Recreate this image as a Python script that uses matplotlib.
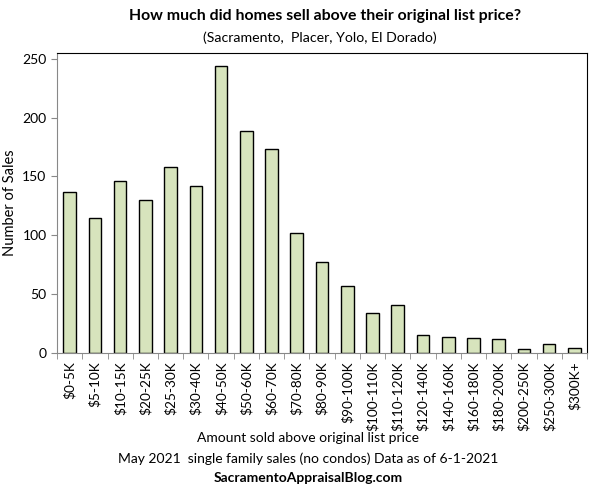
"""Sales above original list price, May 2021."""

import matplotlib
matplotlib.use("Agg")
import matplotlib.pyplot as plt

plt.rcParams["font.family"] = ["Lato", "DejaVu Sans"]

categories = [
    "$0-5K", "$5-10K", "$10-15K", "$20-25K", "$25-30K", "$30-40K", "$40-50K",
    "$50-60K", "$60-70K", "$70-80K", "$80-90K", "$90-100K", "$100-110K",
    "$110-120K", "$120-140K", "$140-160K", "$160-180K", "$180-200K",
    "$200-250K", "$250-300K", "$300K+",
]
sales = [137, 115, 146, 130, 158, 142, 244, 189, 173, 102, 77, 57, 34, 41,
         15, 14, 13, 12, 3, 8, 4]
yticks = [0, 50, 100, 150, 200, 250]

fig = plt.figure(figsize=(5.99, 4.90), dpi=100)
ax = fig.add_axes([0.0952, 0.2796, 0.8848, 0.6124])

x = list(range(len(categories)))
ax.bar(x, sales, width=0.5, color="#d7e4bd", edgecolor="black", linewidth=1.0)
ax.set_xlim(-0.5, len(categories) - 0.5)
ax.set_ylim(0, 255)
ax.set_yticks(yticks)
ax.set_xticks(x)
ax.set_xticklabels(categories, rotation=90, fontsize=9.8)
ax.tick_params(axis="y", labelsize=10, length=4, color="#888888", direction="out")
ax.tick_params(axis="x", length=0, pad=6)
# category boundary ticks
ax.set_xticks([i - 0.5 for i in range(len(categories) + 1)], minor=True)
ax.tick_params(axis="x", which="minor", length=4, color="#888888", direction="out")

for side in ("left", "bottom"):
    ax.spines[side].set_color("#888888")
for side in ("top", "right"):
    ax.spines[side].set_color("black")

ax.set_ylabel("Number of Sales", fontsize=10.5)
ax.yaxis.set_label_coords(-0.075, 0.5)

fig.text(0.542, 0.967, "How much did homes sell above their original list price?",
         ha="center", va="center", fontsize=11.4, fontweight="bold")
fig.text(0.534, 0.922, "(Sacramento,  Placer, Yolo, El Dorado)",
         ha="center", va="center", fontsize=10.2)
fig.text(0.515, 0.106, "Amount sold above original list price",
         ha="center", va="center", fontsize=10)
fig.text(0.515, 0.064, "May 2021  single family sales (no condos) Data as of 6-1-2021",
         ha="center", va="center", fontsize=10)
fig.text(0.515, 0.024, "SacramentoAppraisalBlog.com",
         ha="center", va="center", fontsize=10, fontweight="bold")

fig.savefig("out.png")
